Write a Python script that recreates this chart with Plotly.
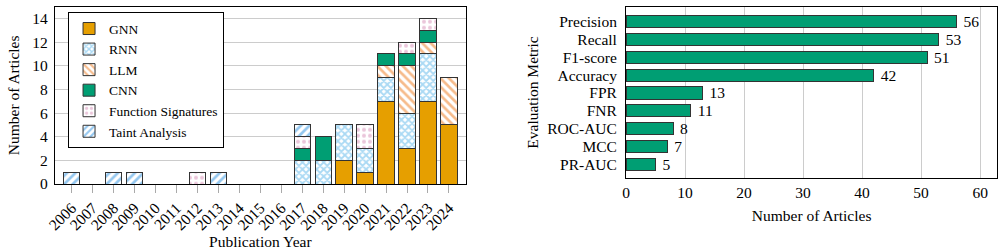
import plotly.graph_objects as go

years = [str(y) for y in range(2006, 2025)]
gnn   = [0,0,0,0,0,0,0,0,0,0,0,0,0,2,1,7,3,7,5]
rnn   = [0,0,0,0,0,0,0,0,0,0,0,2,2,3,2,2,3,4,0]
llm   = [0,0,0,0,0,0,0,0,0,0,0,0,0,0,0,1,4,1,4]
cnn   = [0,0,0,0,0,0,0,0,0,0,0,1,2,0,0,1,1,1,0]
fsig  = [0,0,0,0,0,0,1,0,0,0,0,1,0,0,2,0,1,1,0]
taint = [1,0,1,1,0,0,0,1,0,0,0,1,0,0,0,0,0,0,0]

metrics = ["Precision","Recall","F1-score","Accuracy","FPR","FNR","ROC-AUC","MCC","PR-AUC"]
metric_counts = [56,53,51,42,13,11,8,7,5]

FONT = "Liberation Serif"
FS = 15.5
EDGE = "#333333"

fig = go.Figure()

series = [
    ("GNN", gnn, dict(color="#E69F00")),
    ("RNN", rnn, dict(color="white", pattern=dict(shape="x", fgcolor="#56B4E9", bgcolor="white", size=5, solidity=0.6))),
    ("LLM", llm, dict(color="white", pattern=dict(shape="\\", fgcolor="#EE7718", bgcolor="white", size=6, solidity=0.45))),
    ("CNN", cnn, dict(color="#009E73")),
    ("Function Signatures", fsig, dict(color="white", pattern=dict(shape=".", fgcolor="#D68BB5", bgcolor="white", size=6, solidity=0.35))),
    ("Taint Analysis", taint, dict(color="white", pattern=dict(shape="/", fgcolor="#2A8FE0", bgcolor="white", size=6, solidity=0.45))),
]
for name, vals, mk in series:
    mk = dict(mk)
    mk["line"] = dict(color=EDGE, width=1)
    fig.add_trace(go.Bar(x=years, y=vals, name=name, marker=mk, width=0.78,
                         xaxis="x", yaxis="y"))

fig.add_trace(go.Bar(x=metric_counts, y=metrics, orientation="h", showlegend=False,
                     marker=dict(color="#009E73", line=dict(color=EDGE, width=1)),
                     width=0.67, texttemplate=" %{x}", textposition="outside",
                     constraintext="none",
                     textfont=dict(family=FONT, size=FS, color="black"), cliponaxis=False,
                     xaxis="x2", yaxis="y2"))

axis_common = dict(showline=True, linecolor="black", linewidth=1, mirror=True, automargin=False,
                   tickfont=dict(family=FONT, size=FS, color="black"))

fig.update_layout(
    width=1005, height=250,
    margin=dict(l=0, r=0, t=0, b=0),
    paper_bgcolor="white", plot_bgcolor="white",
    barmode="stack", bargap=0.22,
    font=dict(family=FONT, size=FS, color="black"),
    xaxis=dict(domain=[0.0547, 0.4634], anchor="y", type="category",
               range=[-0.8, 18.8], tickangle=-45, ticks="outside", ticklen=8,
               tickcolor="#aaaaaa", showgrid=False, tickmode="array", tickvals=years,
               title=dict(text="Publication Year", font=dict(family=FONT, size=FS), standoff=8),
               **axis_common),
    yaxis=dict(domain=[0.264, 0.9732], anchor="x", range=[0, 15], dtick=2,
               showgrid=True, gridcolor="#cccccc", gridwidth=1, ticks="",
               ticklabelstandoff=3,
               title=dict(text="Number of Articles", font=dict(family=FONT, size=FS), standoff=8),
               zeroline=False, **axis_common),
    xaxis2=dict(domain=[0.6229, 0.9923], anchor="y2", range=[0, 62.9], dtick=10,
                showgrid=True, gridcolor="#cccccc", gridwidth=1, ticks="", zeroline=False,
                title=dict(text="Number of Articles", font=dict(family=FONT, size=FS), standoff=10),
                **axis_common),
    yaxis2=dict(domain=[0.2868, 0.9732], anchor="x2", type="category",
                range=[8.76, -0.815], ticks="", showgrid=False,
                tickmode="array", tickvals=metrics, ticklabelstandoff=5,
                title=dict(text="Evaluation Metric", font=dict(family=FONT, size=FS), standoff=4),
                **axis_common),
    legend=dict(x=0.0677, y=0.951, xanchor="left", yanchor="top",
                bgcolor="white", bordercolor="black", borderwidth=1,
                font=dict(family=FONT, size=13.5), traceorder="normal",
                itemwidth=30, tracegroupgap=0),
)

fig.write_html("out.html")
